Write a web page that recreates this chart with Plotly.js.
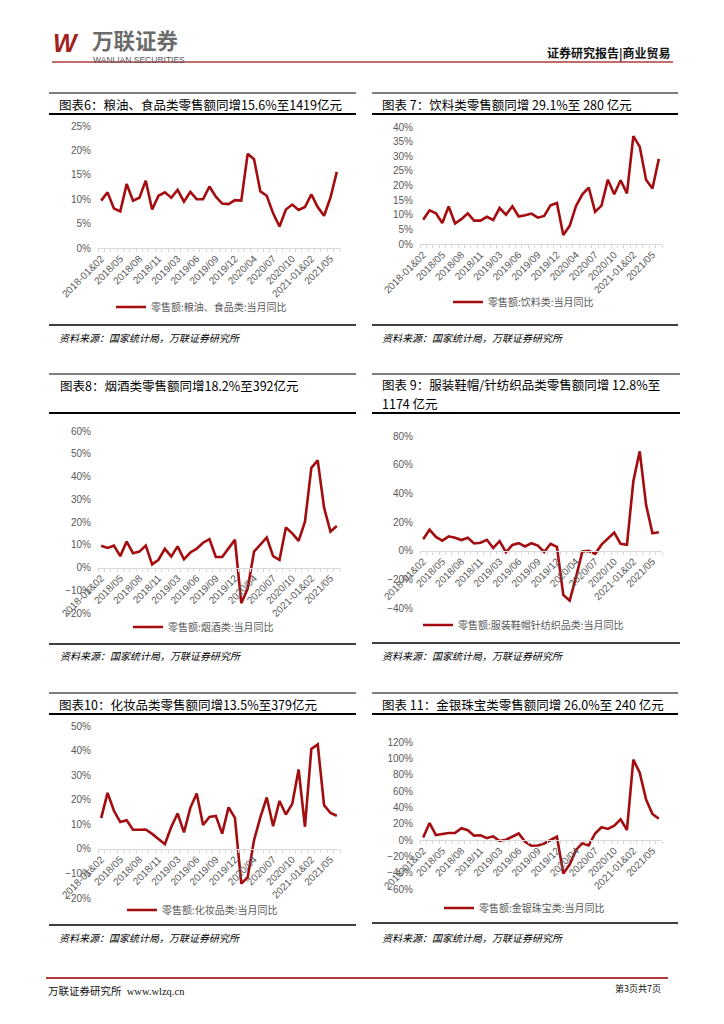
<!DOCTYPE html>
<html>
<head>
<meta charset="utf-8">
<script src="https://cdn.plot.ly/plotly-3.0.1.min.js"></script>
<style>
  html, body { margin: 0; padding: 0; background: #fff; }
  #page { width: 724px; height: 1024px; }
</style>
</head>
<body>
<div id="page"></div>
<script>
// ---------------- DATA ----------------
const categories = [
  '2018-01&02','2018/03','2018/04','2018/05','2018/06','2018/07','2018/08','2018/09','2018/10','2018/11','2018/12',
  '2019-01&02','2019/03','2019/04','2019/05','2019/06','2019/07','2019/08','2019/09','2019/10','2019/11','2019/12',
  '2020-01&02','2020/03','2020/04','2020/05','2020/06','2020/07','2020/08','2020/09','2020/10','2020/11','2020/12',
  '2021-01&02','2021/03','2021/04','2021/05','2021/06'
];
const grainOilFood = [9.7,11.4,8.1,7.5,13.1,9.7,10.3,13.8,7.9,10.7,11.4,10.3,11.9,9.5,11.5,10.0,10.0,12.6,10.5,9.1,9.0,9.8,9.7,19.3,18.2,11.6,10.7,7.1,4.4,7.9,8.9,7.8,8.4,11.0,8.4,6.6,10.3,15.6];
const beverages = [8.3,11.5,10.5,7.2,12.8,7.0,8.5,10.5,8.0,8.0,9.3,8.2,12.3,10.0,12.9,9.4,9.8,10.4,9.0,9.6,13.2,14.0,3.1,6.2,13.0,17.0,19.3,11.0,13.1,22.0,17.0,21.8,17.3,36.9,33.3,22.0,19.0,29.1];
const tobaccoAlcohol = [9.6,8.6,9.6,5.0,11.4,6.3,7.0,9.6,1.4,3.4,8.2,4.8,9.3,3.6,6.6,8.3,10.9,12.5,4.6,4.6,8.4,12.2,-15.7,-9.3,7.0,10.0,13.2,5.0,3.3,17.6,15.0,11.7,20.1,43.8,47.1,26.3,15.8,18.2];
const clothing = [8.0,14.6,9.6,7.0,10.0,9.0,7.4,9.0,5.0,5.5,7.6,1.9,6.6,-1.1,4.0,5.2,2.9,5.2,3.5,-0.9,4.8,2.6,-30.9,-34.8,-18.5,-0.6,-0.2,-2.3,4.2,8.5,12.6,4.8,4.1,48.4,69.3,32.0,12.2,12.8];
const cosmetics = [12.5,22.8,15.5,10.9,11.6,7.8,7.8,7.9,6.1,4.0,1.9,8.9,14.4,6.7,16.7,22.5,9.7,13.0,13.4,6.2,16.9,12.6,-14.1,-11.6,3.5,12.9,20.9,9.2,19.5,14.0,18.3,32.3,9.0,40.7,42.5,17.8,14.6,13.5];
const jewelry = [3.0,20.7,6.0,7.0,8.5,8.5,14.5,12.0,5.3,5.8,2.3,4.5,-1.2,0.4,4.6,8.0,-2.2,-7.1,-6.7,-4.2,0.0,4.0,-41.1,-30.1,-12.1,-3.9,-6.7,8.0,15.6,13.6,17.6,25.3,12.3,98.4,82.5,49.6,31.9,26.0];

const seriesNames = [
  '零售额:粮油、食品类:当月同比',
  '零售额:饮料类:当月同比',
  '零售额:烟酒类:当月同比',
  '零售额:服装鞋帽针纺织品类:当月同比',
  '零售额:化妆品类:当月同比',
  '零售额:金银珠宝类:当月同比'
];
// each title is a list of lines
const chartTitles = [
  ['图表6：粮油、食品类零售额同增15.6%至1419亿元'],
  ['图表 7：饮料类零售额同增 29.1%至 280 亿元'],
  ['图表8：烟酒类零售额同增18.2%至392亿元'],
  ['图表 9：服装鞋帽/针纺织品类零售额同增 12.8%至', '1174 亿元'],
  ['图表10：化妆品类零售额同增13.5%至379亿元'],
  ['图表 11：金银珠宝类零售额同增 26.0%至 240 亿元']
];
const yRanges = [[0,25],[0,40],[-20,60],[-40,80],[-20,50],[-60,120]];
const yDticks = [5,5,10,20,10,20];
const sourceText = '资料来源：国家统计局，万联证券研究所';
const allSeries = [grainOilFood, beverages, tobaccoAlcohol, clothing, cosmetics, jewelry];

// ---------------- LAYOUT GEOMETRY (pixels) ----------------
const W = 724, H = 1024;
const X = p => p / W;
const Y = p => 1 - p / H;

const panels = [
  {xd:[98,340], yd:[126,248], lx:[49,356], top:93, under:114, bottom:325, tx:57, ty:[104], src:337, leg:[111,307]},
  {xd:[420,662], yd:[127,244], lx:[372,678], top:93, under:114, bottom:325, tx:380, ty:[104], src:337, leg:[448,302]},
  {xd:[98,340], yd:[431,613], lx:[49,356], top:374, under:413, bottom:644, tx:58, ty:[385], src:655, leg:[128,627]},
  {xd:[420,662], yd:[436,608], lx:[372,680], top:374, under:413, bottom:643, tx:380, ty:[384,403], src:655, leg:[418,625]},
  {xd:[98,340], yd:[726,898], lx:[49,356], top:693, under:714, bottom:925, tx:57, ty:[704], src:937, leg:[122,910]},
  {xd:[420,662], yd:[742,889], lx:[372,678], top:693, under:714, bottom:923, tx:380, ty:[704], src:937, leg:[439,908]}
];

const tickText = categories.map((c, i) => (i % 3 === 0 ? c : ''));
const RED = '#a30d10';
const GREY_TXT = '#595959';
const CJK = '"Noto Sans CJK SC", "Noto Sans", sans-serif';

const traces = [];
const layout = {
  width: W, height: H,
  margin: {l:0, r:0, t:0, b:0},
  paper_bgcolor: '#ffffff',
  plot_bgcolor: 'rgba(0,0,0,0)',
  showlegend: true,
  shapes: [],
  annotations: []
};

panels.forEach((p, k) => {
  const n = k + 1;
  const xa = n === 1 ? 'xaxis' : 'xaxis' + n;
  const ya = n === 1 ? 'yaxis' : 'yaxis' + n;
  const xr = n === 1 ? 'x' : 'x' + n;
  const yr = n === 1 ? 'y' : 'y' + n;
  const lg = n === 1 ? 'legend' : 'legend' + n;
  const [ymin, ymax] = yRanges[k];
  const zeroPx = p.yd[0] + (ymax / (ymax - ymin)) * (p.yd[1] - p.yd[0]);

  traces.push({
    type: 'scatter', mode: 'lines',
    x: categories, y: allSeries[k],
    name: seriesNames[k],
    xaxis: xr, yaxis: yr, legend: lg,
    line: {color: RED, width: 2.6},
    hoverinfo: 'skip'
  });

  layout[xa] = {
    domain: [X(p.xd[0]), X(p.xd[1])],
    anchor: 'free', position: Y(zeroPx),
    type: 'category',
    range: [-0.5, categories.length - 0.5],
    showgrid: false, zeroline: false,
    showline: true, linecolor: '#d9d9d9', linewidth: 1,
    ticks: 'outside', ticklen: 3, tickcolor: '#d9d9d9', tickwidth: 1,
    tickson: 'boundaries',
    tickmode: 'array', tickvals: categories, ticktext: tickText,
    tickangle: -45,
    tickfont: {family: 'Liberation Sans, Arial, sans-serif', size: 10, color: GREY_TXT},
    fixedrange: true
  };
  layout[ya] = {
    domain: [Y(p.yd[1]), Y(p.yd[0])],
    anchor: xr,
    range: [ymin, ymax],
    tickmode: 'linear', tick0: 0, dtick: yDticks[k],
    ticksuffix: '%',
    showgrid: false, zeroline: false, showline: false, ticks: '',
    ticklabelstandoff: 6,
    tickfont: {family: 'Liberation Sans, Arial, sans-serif', size: 10, color: GREY_TXT},
    fixedrange: true
  };
  layout[lg] = {
    x: X(p.leg[0]), y: Y(p.leg[1]), xanchor: 'left', yanchor: 'middle',
    bgcolor: 'rgba(0,0,0,0)', borderwidth: 0,
    font: {family: CJK, size: 10, color: GREY_TXT},
    itemwidth: 30
  };

  // frame lines
  layout.shapes.push(
    {type:'line', xref:'paper', yref:'paper', x0:X(p.lx[0]), x1:X(p.lx[1]), y0:Y(p.top), y1:Y(p.top), line:{color:'#000', width:1}},
    {type:'line', xref:'paper', yref:'paper', x0:X(p.lx[0]), x1:X(p.lx[1]), y0:Y(p.under), y1:Y(p.under), line:{color:'#000', width:2}},
    {type:'line', xref:'paper', yref:'paper', x0:X(p.lx[0]), x1:X(p.lx[1]), y0:Y(p.bottom), y1:Y(p.bottom), line:{color:'#000', width:1.5}}
  );
  chartTitles[k].forEach((t, j) => {
    layout.annotations.push(
      {xref:'paper', yref:'paper', x:X(p.tx), y:Y(p.ty[j]), xanchor:'left', yanchor:'middle', align:'left',
       showarrow:false, text: t, font:{family: CJK, size: 12.5, color:'#000'}}
    );
  });
  layout.annotations.push(
    {xref:'paper', yref:'paper', x:X(p.tx), y:Y(p.src), xanchor:'left', yanchor:'middle', align:'left',
     showarrow:false, text: '<i>' + sourceText + '</i>', font:{family: CJK, size: 10, color:'#000'}}
  );
});

// header & footer
layout.shapes.push(
  {type:'line', xref:'paper', yref:'paper', x0:X(52), x1:X(673), y0:Y(62), y1:Y(62), line:{color:'#b23b3b', width:1.5}},
  {type:'line', xref:'paper', yref:'paper', x0:X(46), x1:X(668), y0:Y(978), y1:Y(978), line:{color:'#b23b3b', width:2}}
);
layout.annotations.push(
  {xref:'paper', yref:'paper', x:X(51), y:Y(43), xanchor:'left', yanchor:'middle', showarrow:false,
   text:'<b><i>W</i></b>', font:{family:'Liberation Sans, Arial, sans-serif', size:25, color:'#a3201d'}},
  {xref:'paper', yref:'paper', x:X(90), y:Y(39), xanchor:'left', yanchor:'middle', showarrow:false,
   text:'<b>万联证券</b>', font:{family: CJK, size:21.5, color:'#6b6b6b'}},
  {xref:'paper', yref:'paper', x:X(91), y:Y(59.5), xanchor:'left', yanchor:'middle', showarrow:false,
   text:'WANLIAN SECURITIES', font:{family:'Liberation Sans, Arial, sans-serif', size:8.5, color:'#555'}},
  {xref:'paper', yref:'paper', x:X(673), y:Y(53), xanchor:'right', yanchor:'middle', showarrow:false,
   text:'<b>证券研究报告|商业贸易</b>', font:{family: CJK, size:12, color:'#111'}},
  {xref:'paper', yref:'paper', x:X(46), y:Y(991), xanchor:'left', yanchor:'middle', showarrow:false,
   text:'万联证券研究所  www.wlzq.cn', font:{family: '"Liberation Serif", ' + CJK, size:10.5, color:'#111'}},
  {xref:'paper', yref:'paper', x:X(663), y:Y(988), xanchor:'right', yanchor:'middle', showarrow:false,
   text:'第3页共7页', font:{family: CJK, size:9, color:'#111'}}
);

Plotly.newPlot('page', traces, layout, {staticPlot: true, displayModeBar: false});
</script>
</body>
</html>
